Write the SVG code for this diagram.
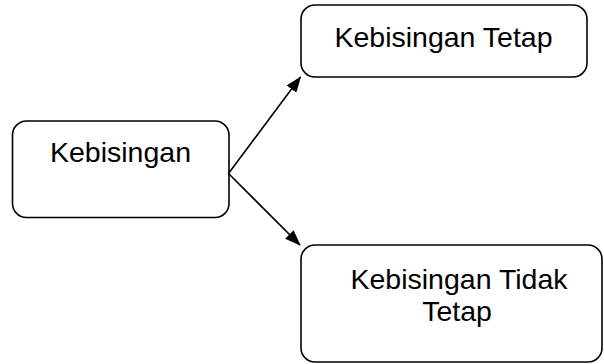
<svg xmlns="http://www.w3.org/2000/svg" width="604" height="364" viewBox="0 0 604 364">
<style>
.box{fill:#fff;stroke:#000;stroke-width:1.6}
.t{font-family:"Liberation Sans",Arial,sans-serif;font-size:28.5px;fill:#000;text-anchor:middle}
.c{stroke:#000;stroke-width:1.6;fill:none}
</style>
<defs>
<marker id="ah" markerWidth="16" markerHeight="12" refX="15" refY="6" orient="auto" markerUnits="userSpaceOnUse">
<path d="M0,0 L16,6 L0,12 Z" fill="#000"/>
</marker>
</defs>
<rect width="604" height="364" fill="#fff"/>
<g id="n1">
<rect class="box" x="12.5" y="121" width="216.5" height="96.5" rx="14"/>
<text class="t" x="120.5" y="162">Kebisingan</text>
</g>
<g id="n2">
<rect class="box" x="301" y="5" width="286" height="72" rx="14"/>
<text class="t" x="443.5" y="46.5">Kebisingan Tetap</text>
</g>
<g id="n3">
<rect class="box" x="301" y="245" width="301" height="117" rx="14"/>
<text class="t" x="459" y="289">Kebisingan Tidak</text>
<text class="t" x="457" y="321">Tetap</text>
</g>
<g id="connectors">
<line class="c" x1="228.5" y1="173.5" x2="300.5" y2="77" marker-end="url(#ah)"/>
<line class="c" x1="228.5" y1="173.5" x2="300" y2="245" marker-end="url(#ah)"/>
</g>
</svg>
